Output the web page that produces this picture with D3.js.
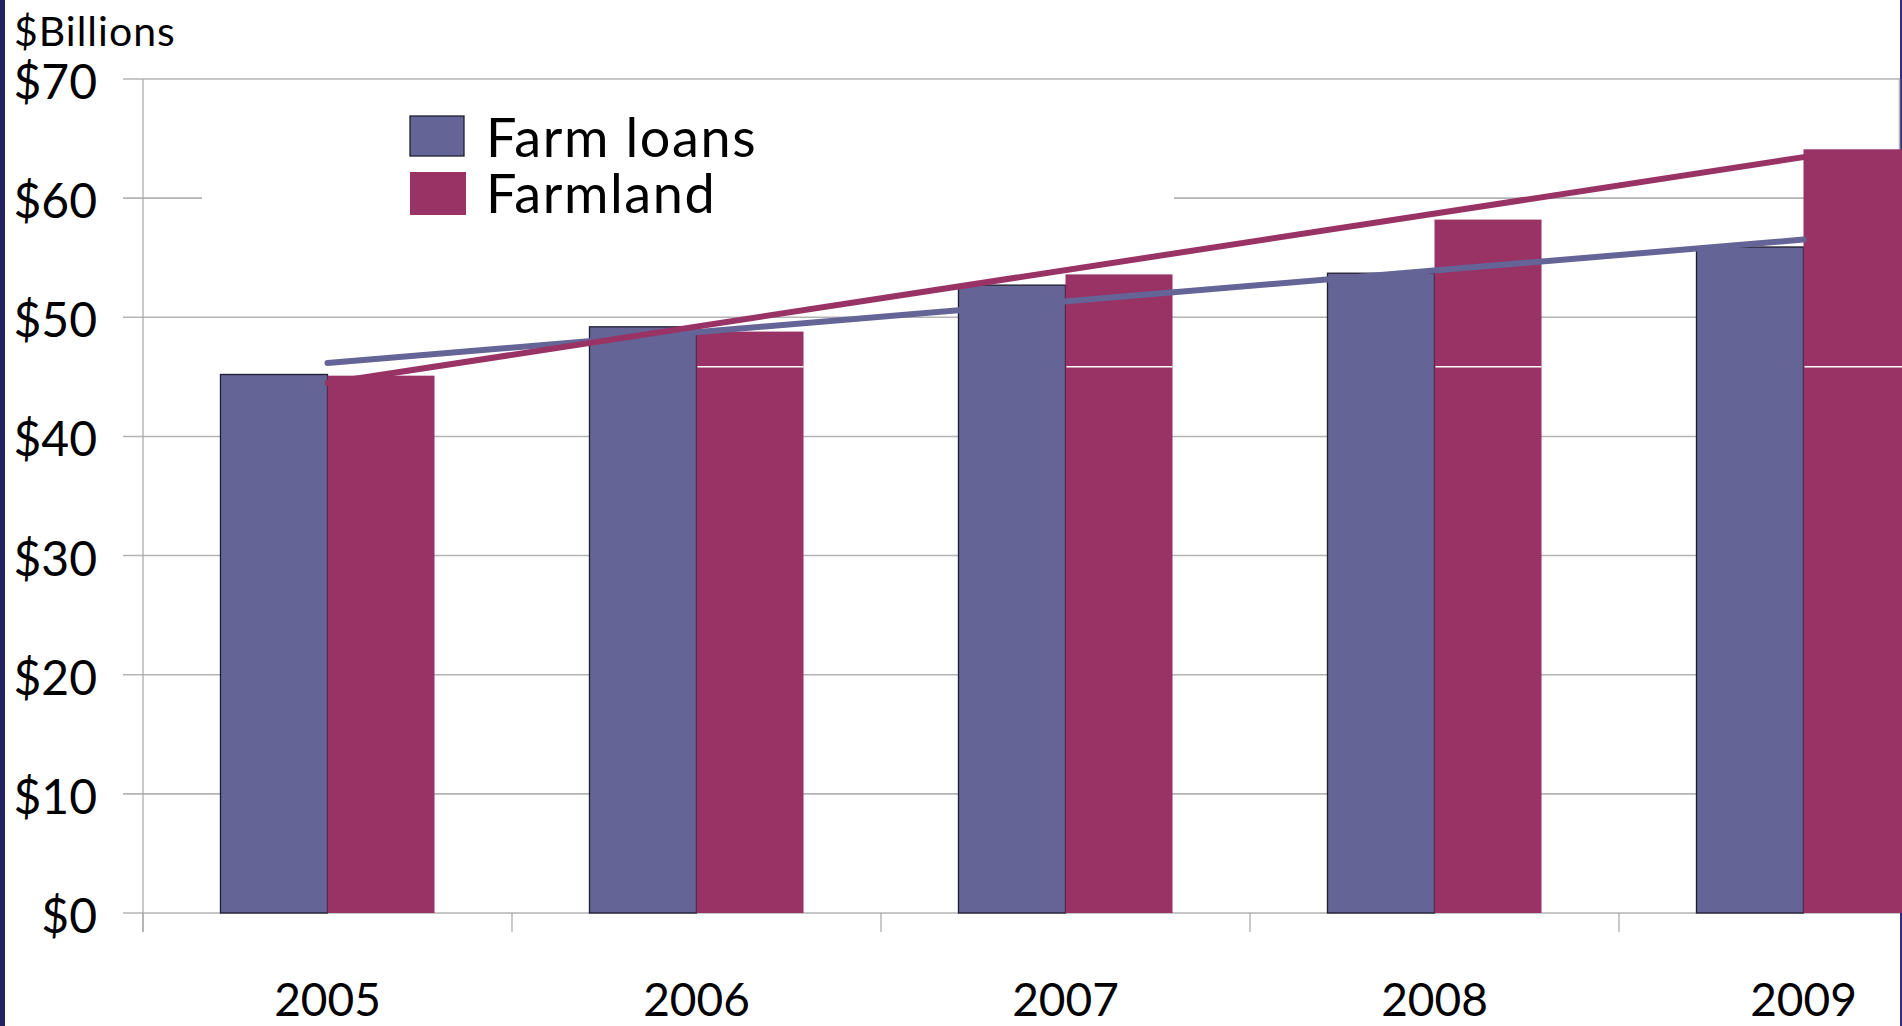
<!DOCTYPE html>
<html>
<head>
<meta charset="utf-8">
<script src="https://cdn.jsdelivr.net/npm/d3@7"></script>
<style>
  html, body { margin: 0; padding: 0; background: #fff; overflow: hidden; }
  svg { display: block; font-family: Lato, "Open Sans", "Noto Sans", sans-serif; }
</style>
</head>
<body>
<svg id="chart" width="1902" height="1026"></svg>
<script>
// Farm loans vs farmland values, $ billions
const years = ["2005", "2006", "2007", "2008", "2009"];
const seriesNames = ["Farm loans", "Farmland"];
const farmLoans = [45.2, 49.2, 52.7, 53.7, 55.9];
const farmland = [45.1, 48.8, 53.6, 58.2, 64.1];
const yTicks = [0, 10, 20, 30, 40, 50, 60, 70];
const yTickLabels = ["$0", "$10", "$20", "$30", "$40", "$50", "$60", "$70"];
const colors = ["#646496", "#993366"];

(function () {
const svg = d3.select("#chart");
const H = 1026;

const plotLeft = 143, plotTop = 79, plotBottom = 913;
const bandW = 369;

const x = d3.scaleBand().domain(years).range([plotLeft, plotLeft + bandW * years.length]).padding(0);
const x1 = d3.scaleBand().domain(seriesNames).range([0, x.bandwidth()]).paddingInner(0).paddingOuter(0.724);
const y = d3.scaleLinear().domain([0, 70]).range([plotBottom, plotTop]);

// Frame edges
svg.append("rect").attr("x", 0).attr("y", 0).attr("width", 5).attr("height", H).attr("fill", "#24225f");
svg.append("rect").attr("x", 1900).attr("y", 0).attr("width", 2).attr("height", H).attr("fill", "#2e2e7a");

// Gridlines (with the left tick stubs)
svg.append("g").selectAll("line").data(yTicks).join("line")
  .attr("x1", plotLeft - 20).attr("x2", 1900)
  .attr("y1", d => y(d)).attr("y2", d => y(d))
  .attr("stroke", "#b3b3b3").attr("stroke-width", 1.6);

// Plot right border
svg.append("line").attr("x1", 1899.5).attr("x2", 1899.5).attr("y1", plotTop).attr("y2", plotBottom)
  .attr("stroke", "#b3b3b3").attr("stroke-width", 1.6);

// Y axis line and x tick marks
svg.append("line").attr("x1", plotLeft).attr("x2", plotLeft).attr("y1", plotTop).attr("y2", plotBottom + 19)
  .attr("stroke", "#a6a6a6").attr("stroke-width", 1.2);
svg.append("g").selectAll("line").data(years).join("line")
  .attr("x1", d => x(d)).attr("x2", d => x(d))
  .attr("y1", plotBottom).attr("y2", plotBottom + 19)
  .attr("stroke", "#a6a6a6").attr("stroke-width", 1.2);

// Y tick labels
svg.append("g").selectAll("text").data(yTicks).join("text")
  .attr("x", 97).attr("y", d => y(d) + 20)
  .attr("text-anchor", "end")
  .attr("font-size", 48)
  .attr("fill", "#000")
  .text((d, i) => yTickLabels[i]);

// Unit label
svg.append("text").attr("x", 14).attr("y", 46)
  .attr("font-size", 41).attr("letter-spacing", 1).attr("fill", "#000").text("$Billions");

// Legend backdrop hides the gridline behind it
svg.append("rect").attr("x", 202).attr("y", 96).attr("width", 972).attr("height", 140).attr("fill", "#fff");

// Bars
const rows = years.map((yr, i) => ({ year: yr, values: [farmLoans[i], farmland[i]] }));
const groups = svg.append("g").selectAll("g").data(rows).join("g")
  .attr("transform", d => `translate(${x(d.year)},0)`);

groups.selectAll("rect").data(d => d.values.map((v, k) => ({ v, k }))).join("rect")
  .attr("x", d => x1(seriesNames[d.k]))
  .attr("width", x1.bandwidth())
  .attr("y", d => y(d.v))
  .attr("height", d => y(0) - y(d.v))
  .attr("fill", d => colors[d.k])
  .attr("stroke", d => d.k === 0 ? "#1e1e2e" : "none")
  .attr("stroke-width", 1.3);

// Thin white rule across the taller farmland bars
const ruleValue = 45.85;
groups.filter(d => d.values[1] > ruleValue).append("line")
  .attr("x1", x1("Farmland") + 1)
  .attr("x2", x1("Farmland") + x1.bandwidth())
  .attr("y1", y(ruleValue)).attr("y2", y(ruleValue))
  .attr("stroke", "#fff").attr("stroke-width", 1.5);

// Linear trend lines, least squares over the series
function trend(values) {
  const n = values.length;
  const xs = d3.range(n);
  const mx = d3.mean(xs), my = d3.mean(values);
  const sxy = d3.sum(xs, (xi, i) => (xi - mx) * (values[i] - my));
  const sxx = d3.sum(xs, xi => (xi - mx) * (xi - mx));
  const b = sxy / sxx, a = my - b * mx;
  return [a, a + b * (n - 1)];
}
const cx = yr => x(yr) + x.bandwidth() / 2;
[farmLoans, farmland].forEach((vals, k) => {
  const [v0, v1] = trend(vals);
  svg.append("line")
    .attr("x1", cx(years[0])).attr("y1", y(v0))
    .attr("x2", cx(years[years.length - 1])).attr("y2", y(v1))
    .attr("stroke", colors[k]).attr("stroke-width", 6)
    .attr("stroke-linecap", "round");
});

// X category labels
svg.append("g").selectAll("text").data(years).join("text")
  .attr("x", d => cx(d)).attr("y", 1016)
  .attr("text-anchor", "middle")
  .attr("font-size", 46)
  .attr("fill", "#000")
  .text(d => d);

// Legend: swatches plus one two-line text block
const legend = svg.append("g");
const legendRows = [{ name: seriesNames[0], y: 116, h: 40, base: 157 }, { name: seriesNames[1], y: 172, h: 43, base: 213 }];
legend.selectAll("rect").data(legendRows).join("rect")
  .attr("x", 410).attr("y", d => d.y)
  .attr("width", (d, i) => i === 0 ? 54 : 56).attr("height", d => d.h)
  .attr("fill", (d, i) => colors[i])
  .attr("stroke", (d, i) => i === 0 ? "#1e1e2e" : "none")
  .attr("stroke-width", 1.3);
legend.append("text")
  .attr("font-size", 54).attr("letter-spacing", 1.6).attr("fill", "#000")
  .selectAll("tspan").data(legendRows).join("tspan")
  .attr("x", 486).attr("y", d => d.base)
  .text(d => d.name);
})();
</script>
</body>
</html>
